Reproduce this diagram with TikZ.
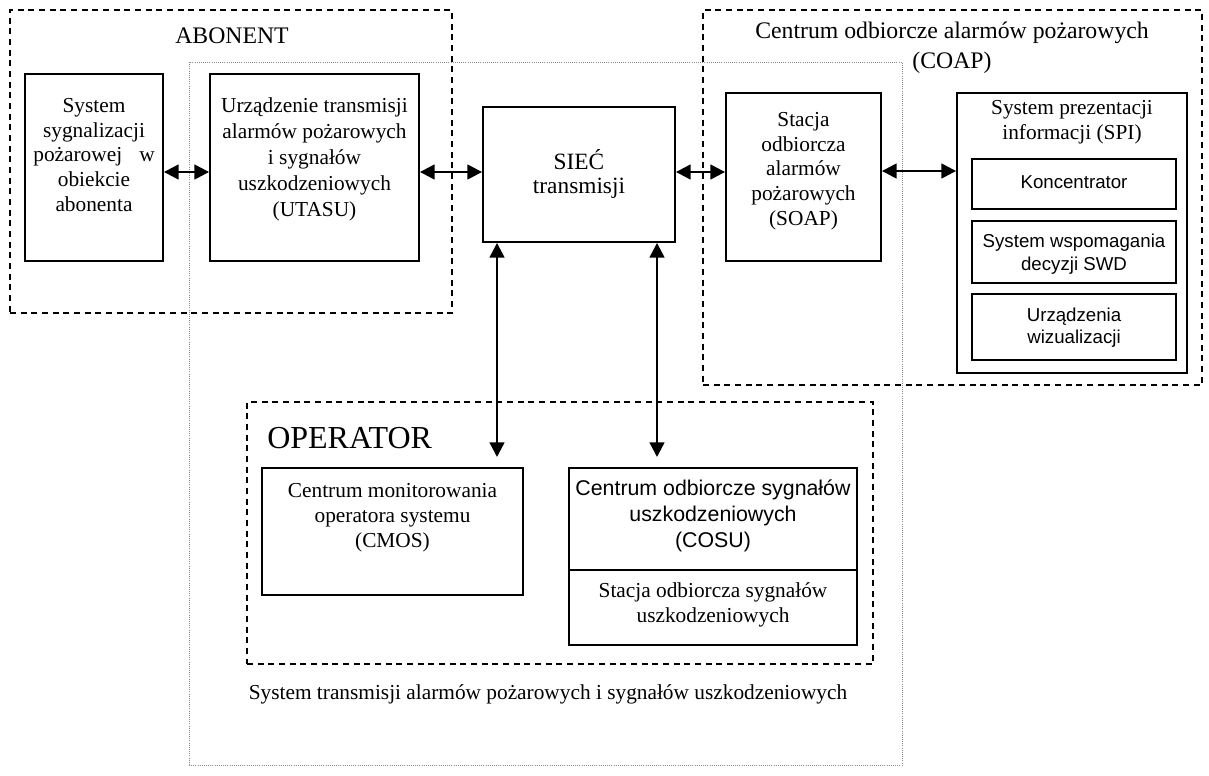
\documentclass[tikz,border=0pt]{standalone}
\usepackage{fontspec}
\setmainfont{Liberation Serif}
\setsansfont{Liberation Sans}
\usetikzlibrary{arrows.meta,fit,calc}
\begin{document}
\begin{tikzpicture}[x=0.75pt,y=-0.75pt,
  box/.style={draw,line width=1.4pt,inner sep=0pt},
  group/.style={draw,line width=1.3pt,dash pattern=on 4.5pt off 3.5pt,inner sep=0pt},
  sysarea/.style={draw=black!45,line width=0.6pt,densely dotted,inner sep=0pt},
  txt/.style={align=center,inner sep=0pt,font=\fontsize{16}{18.5}\selectfont},
  stxt/.style={align=center,inner sep=0pt,font=\sffamily\fontsize{14}{17}\selectfont},
  title/.style={align=center,inner sep=0pt,font=\fontsize{17.8}{22.5}\selectfont},
  link/.style={line width=1.8pt,{Triangle[length=11pt,width=11pt]}-{Triangle[length=11pt,width=11pt]}}
]
\fill[white] (0,0) rectangle (1209,775);
\useasboundingbox (0,0) rectangle (1209,775);

% system area (dotted)
\node[sysarea, fit={(189,62) (902,765)}] (sys) {};

% groups
\node[group, fit={(10,10) (452,313)}] (abon) {};
\node[group, fit={(703,10) (1202,385)}] (coap) {};
\node[group, fit={(247,402) (873,664)}] (oper) {};

% boxes
\node[box, fit={(25,74) (163,261)}] (b1) {};
\node[box, fit={(210,74) (419,261)}] (b2) {};
\node[box, fit={(483,107) (675,242)}] (siec) {};
\node[box, fit={(726,93) (881,261)}] (soap) {};
\node[box, fit={(957,93) (1187,373)}] (spi) {};
\node[box, fit={(972,159) (1176,209)}] (konc) {};
\node[box, fit={(972,221) (1176,283)}] (swd) {};
\node[box, fit={(972,294) (1176,360)}] (urz) {};
\node[box, fit={(262,468) (523,595)}] (cmos) {};
\node[box, fit={(569,468) (857,645)}] (cosu) {};
\coordinate (div) at (713,570);
\draw[line width=1.4pt] (cosu.west |- div) -- (cosu.east |- div);

% connectors
\coordinate (row) at (0,172);
\coordinate (row2) at (0,171);
\coordinate (d1) at (497,457);
\coordinate (d2) at (657,457);
\draw[link] (b1.east |- row) -- (b2.west |- row);
\draw[link] (b2.east |- row) -- (siec.west |- row);
\draw[link] (siec.east |- row) -- (soap.west |- row);
\draw[link] (soap.east |- row2) -- (spi.west |- row2);
\draw[link] (siec.south -| d1) -- (d1);
\draw[link] (siec.south -| d2) -- (d2);

% texts
\node[title, anchor=base] (abont) at (232,43) {ABONENT};
\node[title] (coapt) at (952,48) {Centrum odbiorcze alarmów pożarowych\\(COAP)};
\node[inner sep=0pt, anchor=base west, font=\fontsize{24}{28}\selectfont] (opert) at (267,448) {OPERATOR};

\node[txt] (b1t) at (94,155) {System\\sygnalizacji\\pożarowej\hspace{0.8em}w\\obiekcie\\abonenta};
\node[txt, font=\fontsize{16}{19.5}\selectfont] (b2t) at (314.5,159) {Urządzenie transmisji\\alarmów pożarowych\\i sygnałów\\uszkodzeniowych\\(UTASU)};
\node[txt, font=\fontsize{17.5}{18}\selectfont] (siect) at (579,173.5) {SIEĆ\\transmisji};
\node[txt] (soapt) at (803.5,171) {Stacja\\odbiorcza\\alarmów\\pożarowych\\(SOAP)};
\node[txt, font=\fontsize{16}{19}\selectfont] (spit) at (1072,122.5) {System prezentacji\\informacji (SPI)};
\node[stxt] (konct) at (1074,182) {Koncentrator};
\node[stxt] (swdt) at (1074,254) {System wspomagania\\decyzji SWD};
\node[stxt] (urzt) at (1074,327.5) {Urządzenia\\wizualizacji};
\node[txt, font=\fontsize{16}{18.75}\selectfont] (cmost) at (392.5,518) {Centrum monitorowania\\operatora systemu\\(CMOS)};
\node[txt, font=\sffamily\fontsize{16}{19.5}\selectfont] (cosut) at (713,516) {Centrum odbiorcze sygnałów\\uszkodzeniowych\\(COSU)};
\node[txt, font=\fontsize{16}{18.75}\selectfont] (sosut) at (713,604.5) {Stacja odbiorcza sygnałów\\uszkodzeniowych};
\node[txt] (syst) at (548,694) {System transmisji alarmów pożarowych i sygnałów uszkodzeniowych};
\end{tikzpicture}
\end{document}
